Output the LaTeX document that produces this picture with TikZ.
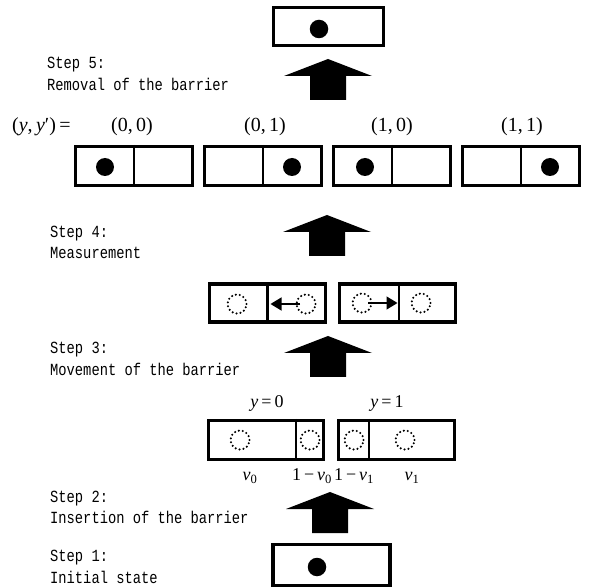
\documentclass[tikz,border=0pt]{standalone}
\usepackage{fontspec}
\setmainfont{Liberation Serif}
\newfontfamily\stepfont[FakeStretch=0.81]{Liberation Mono}
\usetikzlibrary{arrows.meta}
\begin{document}
\begin{tikzpicture}[x=1pt,y=-1pt,
  box/.style={draw, line width=3.2pt, inner sep=0pt, minimum width=117pt, minimum height=39pt},
  divider/.style={line width=2.6pt},
  ball/.style={circle, fill=black, inner sep=0pt, minimum size=18.5pt},
  ghost/.style={circle, draw, line width=2.3pt, dash pattern=on 0pt off 4pt, line cap=round, inner sep=0pt, minimum size=19pt},
  steptext/.style={font=\stepfont\fontsize{17}{20}\selectfont, inner sep=0pt, anchor=base west},
  mathlbl/.style={font=\fontsize{20}{24}\selectfont, inner sep=0pt, anchor=base},
  smalllbl/.style={font=\fontsize{18}{22}\selectfont, inner sep=0pt, anchor=base},
  move/.style={line width=1.3pt, -{Triangle[length=11pt,width=13pt]}},
  bigarrow/.pic={\fill (0,0) -- (44,17) -- (18,17) -- (18,41) -- (-18,41) -- (-18,17) -- (-44,17) -- cycle;}
]
\useasboundingbox (0,0) rectangle (598,588);

% ---------- Step 1: initial state ----------
\node[box, minimum height=41pt] (init) at (331.5,565) {};
\node[ball] (initball) at (317,567) {};
\node[steptext] (s1a) at (50,561) {Step 1:};
\node[steptext] (s1b) at (50,583) {Initial state};
\pic (arr2) at (330,492) {bigarrow};

% ---------- Step 2: insertion of the barrier ----------
\node[box, minimum width=115pt] (c) at (266,440) {};
\draw[divider] (c.north -| 296,0) -- (c.south -| 296,0);
\node[ghost] (c1) at (240,440) {};
\node[ghost] (c2) at (310,440) {};
\node[box, minimum width=116pt] (d) at (396.5,440) {};
\draw[divider] (d.north -| 369,0) -- (d.south -| 369,0);
\node[ghost] (d1) at (354,440) {};
\node[ghost] (d2) at (405,440) {};
\node[smalllbl] (y0) at (267,408) {\textit{y}\,=\,0};
\node[smalllbl] (y1) at (387,408) {\textit{y}\,=\,1};
\node[smalllbl] (v0) at (250,481) {\textit{v}\textsubscript{0}};
\node[smalllbl] (w0) at (312,481) {1\,−\,\textit{v}\textsubscript{0}};
\node[smalllbl] (w1) at (354,481) {1\,−\,\textit{v}\textsubscript{1}};
\node[smalllbl] (v1) at (412,481) {\textit{v}\textsubscript{1}};
\node[steptext] (s2a) at (50,503) {Step 2:};
\node[steptext] (s2b) at (50,523) {Insertion of the barrier};
\pic (arr3) at (328,336) {bigarrow};

% ---------- Step 3: movement of the barrier ----------
\node[box, minimum width=116pt, minimum height=38pt] (a) at (267.5,303) {};
\draw[divider] (a.north) -- (a.south);
\node[ghost] (a1) at (237,304) {};
\node[ghost] (a2) at (306,304) {};
\coordinate (astart) at (300,304);
\coordinate (atip) at (270.5,304);
\draw[move] (astart) -- (atip);
\node[box, minimum width=116pt, minimum height=38pt] (b) at (397.5,303) {};
\draw[divider] (b.north -| 399,0) -- (b.south -| 399,0);
\node[ghost] (b1) at (362,303) {};
\node[ghost] (b2) at (421,303) {};
\coordinate (bstart) at (368,303);
\coordinate (btip) at (397.5,303);
\draw[move] (bstart) -- (btip);
\node[steptext] (s3a) at (50,354) {Step 3:};
\node[steptext] (s3b) at (50,376) {Movement of the barrier};
\pic (arr4) at (327,215) {bigarrow};

% ---------- Step 4: measurement ----------
\node[steptext] (s4a) at (50,238) {Step 4:};
\node[steptext] (s4b) at (50,259) {Measurement};
\foreach \name/\cx/\dx in {m00/134/-29, m01/263/29, m10/392/-27, m11/521/29}{
  \node[box] (\name) at (\cx,166) {};
  \draw[divider] (\name.north) -- (\name.south);
  \node[ball, minimum size=18pt] (\name ball) at (\cx+\dx,167) {};
}
\node[mathlbl, anchor=base west] (yy) at (12,132) {(\textit{y},\,\textit{y}′)\,=};
\node[mathlbl] (l00) at (132,132) {(0,\,0)};
\node[mathlbl] (l01) at (265,132) {(0,\,1)};
\node[mathlbl] (l10) at (392,132) {(1,\,0)};
\node[mathlbl] (l11) at (522,132) {(1,\,1)};
\pic (arr5) at (328,59) {bigarrow};

% ---------- Step 5: removal of the barrier ----------
\node[steptext] (s5a) at (47,69) {Step 5:};
\node[steptext] (s5b) at (47,91) {Removal of the barrier};
\node[box, minimum width=110pt, minimum height=38pt] (final) at (328.5,26.5) {};
\node[ball] (finalball) at (319,29) {};
\end{tikzpicture}
\end{document}
